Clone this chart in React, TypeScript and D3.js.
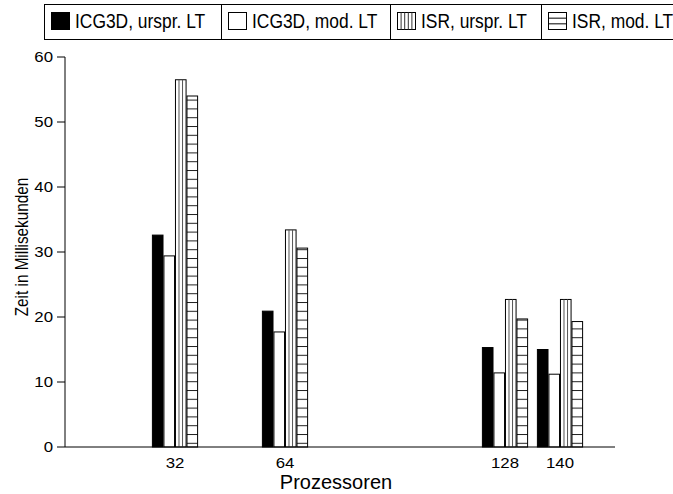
import React from "react";
import * as d3 from "d3";

const categories = ["32", "64", "128", "140"];
const categoryPositions = [32, 64, 128, 144];
const seriesNames = ["ICG3D, urspr. LT", "ICG3D, mod. LT", "ISR, urspr. LT", "ISR, mod. LT"];
const icg3dUrspr = [32.6, 20.9, 15.3, 15.0];
const icg3dMod = [29.4, 17.7, 11.4, 11.2];
const isrUrspr = [56.5, 33.4, 22.7, 22.7];
const isrMod = [54.0, 30.6, 19.7, 19.3];
const yTicks = [0, 10, 20, 30, 40, 50, 60];
const xAxisTitle = "Prozessoren";
const yAxisTitle = "Zeit in Millisekunden";

const seriesValues = [icg3dUrspr, icg3dMod, isrUrspr, isrMod];
const seriesKinds = ["solid", "empty", "vstripe", "hstripe"];

const W = 673;
const H = 494;
const FONT = "'Liberation Sans', Arial, Helvetica, sans-serif";

export default function App() {
  const x = d3.scaleLinear().domain([0, 160]).range([65, 615]);
  const y = d3.scaleLinear().domain([0, 60]).range([447, 57]);
  const band = d3.scaleBand<string>().domain(seriesNames).range([-22.6, 22.6]).paddingInner(0.08);
  const bw = band.bandwidth();

  const bars = seriesNames.flatMap((name, si) =>
    categoryPositions.map((p, ci) => ({
      key: `${si}-${ci}`,
      kind: seriesKinds[si],
      x: x(p) + (band(name) as number),
      y: y(seriesValues[si][ci]),
      h: y(0) - y(seriesValues[si][ci]),
    }))
  );

  const legendCells = [44, 221, 390, 541];

  return (
    <svg
      width={W}
      height={H}
      style={{ position: "absolute", left: 0, top: 0, background: "#fff" }}
      fontFamily={FONT}
    >
      <defs>
        <pattern id="hstripes" patternUnits="userSpaceOnUse" x={0} y={y(0) - 4.2} width={20} height={8.8}>
          <rect x={0} y={0} width={20} height={8.8} fill="#fff" />
          <rect x={0} y={0} width={20} height={1} fill="#222" />
        </pattern>
      </defs>
      <rect x={0} y={0} width={W} height={H} fill="#fff" />

      {/* Legend */}
      <rect x={44.5} y={4.5} width={700} height={35} fill="#fff" stroke="#000" strokeWidth={1} />
      {legendCells.slice(1).map((cx, i) => (
        <line key={i} x1={cx + 0.5} x2={cx + 0.5} y1={4.5} y2={39.5} stroke="#000" strokeWidth={1} />
      ))}
      {seriesNames.map((name, i) => {
        const sx = legendCells[i] + 7.5;
        const sy = 12.5;
        const sw = 18;
        const sh = 17;
        const kind = seriesKinds[i];
        return (
          <g key={name}>
            <rect
              x={sx}
              y={sy}
              width={sw}
              height={sh}
              fill={kind === "solid" ? "#000" : "#fff"}
              stroke="#000"
              strokeWidth={1}
            />
            {kind === "vstripe" &&
              d3.range(1, 5).map((k) => (
                <line key={k} x1={sx + k * (sw / 5)} x2={sx + k * (sw / 5)} y1={sy} y2={sy + sh} stroke="#333" strokeWidth={1} />
              ))}
            {kind === "hstripe" &&
              d3.range(1, 3).map((k) => (
                <line key={k} x1={sx} x2={sx + sw} y1={sy + k * (sh / 3)} y2={sy + k * (sh / 3)} stroke="#000" strokeWidth={1} />
              ))}
            <text
              transform={`translate(${legendCells[i] + 31},28) scale(0.87,1)`}
              fontSize={20}
              fill="#000"
            >
              {name}
            </text>
          </g>
        );
      })}

      {/* Bars */}
      {bars.map((b) => (
        <g key={b.key}>
          <rect
            x={b.x}
            y={b.y}
            width={bw}
            height={b.h}
            fill={b.kind === "solid" ? "#000" : b.kind === "hstripe" ? "url(#hstripes)" : "#fff"}
            stroke="#000"
            strokeWidth={1}
          />
          {b.kind === "vstripe" &&
            [1, 2].map((k) => (
              <line
                key={k}
                x1={b.x + (k * bw) / 3}
                x2={b.x + (k * bw) / 3}
                y1={b.y}
                y2={b.y + b.h}
                stroke="#555"
                strokeWidth={1}
              />
            ))}
        </g>
      ))}

      {/* Y axis */}
      <line x1={x(0)} x2={x(0)} y1={y(60)} y2={y(0)} stroke="#000" strokeWidth={1} />
      {yTicks.map((t) => (
        <g key={t}>
          <line x1={x(0) - 8} x2={x(0)} y1={y(t)} y2={y(t)} stroke="#000" strokeWidth={1} />
          <text
            transform={`translate(53,${y(t) + 5}) scale(1.2,1)`}
            textAnchor="end"
            fontSize={14}
            fill="#000"
          >
            {t}
          </text>
        </g>
      ))}

      {/* X axis */}
      <line x1={x(0)} x2={x(160)} y1={y(0)} y2={y(0)} stroke="#000" strokeWidth={1} />
      {categories.map((c, i) => (
        <text
          key={c}
          transform={`translate(${x(categoryPositions[i])},468) scale(1.2,1)`}
          textAnchor="middle"
          fontSize={14}
          fill="#000"
        >
          {c}
        </text>
      ))}
      <text x={336} y={489} textAnchor="middle" fontSize={20} fill="#000">
        {xAxisTitle}
      </text>
      <text
        transform={`translate(28,247) rotate(-90) scale(0.85,1)`}
        textAnchor="middle"
        fontSize={18}
        fill="#000"
      >
        {yAxisTitle}
      </text>
    </svg>
  );
}
